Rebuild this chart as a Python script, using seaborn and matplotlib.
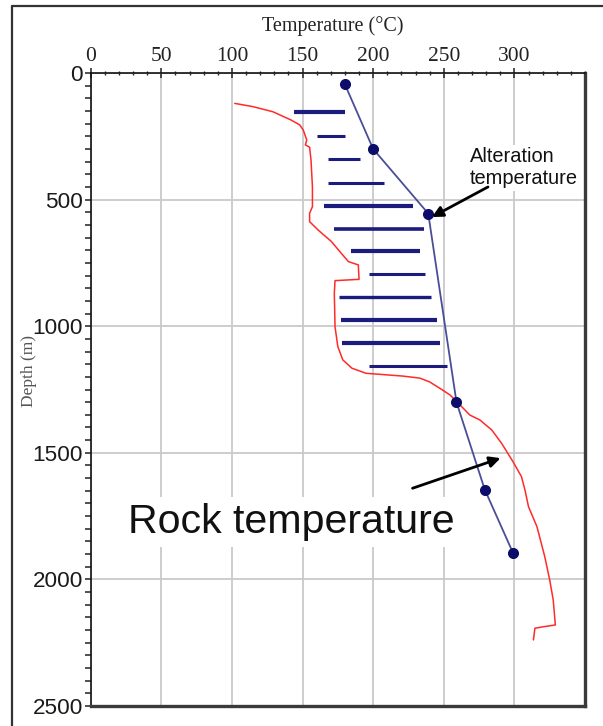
import matplotlib
matplotlib.use("Agg")
import matplotlib.pyplot as plt
import seaborn as sns
import pandas as pd
from matplotlib.lines import Line2D
from matplotlib.ticker import MultipleLocator, FixedLocator

# Alteration temperature estimated from mineralogy (points joined by a line)
alt_temp = [180, 200, 239, 259, 279, 299]
alt_depth = [45, 300, 555, 1300, 1645, 1895]

# Temperature range of the alteration assemblage at sampled depths
range_depth = [155, 249, 341, 433, 524, 616, 703, 795, 886, 975, 1066, 1157]
range_min = [144, 160, 168, 168, 165, 172, 184, 197, 176, 177, 178, 197]
range_max = [180, 180, 191, 208, 228, 236, 233, 237, 241, 245, 247, 252]

# Measured rock temperature profile
rock_temp = [102, 115, 129, 142, 148, 150.5, 153, 152, 155, 156, 157, 157,
             155, 155, 161, 170.5, 176.5, 182.5, 189.5, 190, 173, 172.5, 173,
             175, 178.5, 185, 195, 221, 233, 240, 248, 254.5, 261.5, 268.5,
             275.5, 284, 291, 299, 305, 307.5, 310, 316, 321.5, 325, 327.5,
             329, 320.5, 314.5, 313.5]
rock_depth = [120, 133, 153, 186, 205, 225, 265, 284, 293, 344, 449, 528,
              554, 587, 620, 666, 706, 745, 758, 815, 820, 870, 1002,
              1081, 1133, 1166, 1186, 1197, 1205, 1220, 1248, 1272, 1311, 1351,
              1370, 1410, 1463, 1535, 1594, 1647, 1713, 1792, 1910, 2002, 2081,
              2180, 2187, 2193, 2239]

x_ticks = [0, 50, 100, 150, 200, 250, 300]
y_ticks = [0, 500, 1000, 1500, 2000, 2500]

sns.set_style("white")
plt.rcParams["font.family"] = ["Liberation Sans", "DejaVu Sans"]

W, H = 603, 726
fig = plt.figure(figsize=(W / 100, H / 100), dpi=100)
ax = fig.add_axes([90.7 / W, 1 - 706 / H, (585 - 90.7) / W, (706 - 73) / H])

rock_df = pd.DataFrame({"temp": rock_temp, "depth": rock_depth})
alt_df = pd.DataFrame({"temp": alt_temp, "depth": alt_depth})

# Rock temperature curve
sns.lineplot(data=rock_df, x="temp", y="depth", sort=False, estimator=None,
             color="#ff2a2a", linewidth=1.1, ax=ax, zorder=3)

# Alteration temperature ranges
bar_lw = [3, 2.2, 2.2, 2.2, 3, 2.6, 3, 2.2, 2.4, 3, 3, 2.2]
ax.hlines(range_depth, range_min, range_max, colors="#1c1c7e",
          linewidths=bar_lw, zorder=4)

# Alteration temperature trend
sns.lineplot(data=alt_df, x="temp", y="depth", sort=False, estimator=None,
             color="#4a4e98", linewidth=1.3, marker="o", markersize=7.2,
             markerfacecolor="#0c0c6a", markeredgecolor="#0c0c6a",
             ax=ax, zorder=5)

ax.set_xlim(0, 350)
ax.set_ylim(2500, 0)
ax.xaxis.tick_top()
ax.xaxis.set_label_position("top")
ax.xaxis.set_major_locator(FixedLocator(x_ticks))
ax.xaxis.set_minor_locator(MultipleLocator(10))
ax.yaxis.set_major_locator(FixedLocator(y_ticks))
ax.yaxis.set_minor_locator(MultipleLocator(50))

ax.grid(True, which="major", color="#c9c9c9", linewidth=1.3, zorder=0)
ax.set_axisbelow(True)

ax.tick_params(axis="x", which="major", direction="inout", length=7,
               width=1.1, color="#222222", pad=1.5, top=True, bottom=False)
ax.tick_params(axis="x", which="minor", direction="inout", length=3,
               width=1.0, color="#222222", top=True, bottom=False)
ax.tick_params(axis="y", which="both", direction="out", length=4,
               width=1.1, color="#222222", pad=1.5, left=True, right=False)

for lab in ax.get_xticklabels():
    lab.set_fontfamily(["Liberation Serif", "DejaVu Serif"])
    lab.set_fontsize(15.5)
    lab.set_color("#222222")
for lab in ax.get_yticklabels():
    lab.set_fontfamily(["Liberation Sans", "DejaVu Sans"])
    lab.set_fontsize(16.2)
    lab.set_color("#1a1a1a")

ax.set_xlabel("Temperature (°C)", fontsize=14.5,
              fontfamily=["Liberation Serif", "DejaVu Serif"], color="#222222")
ax.xaxis.set_label_coords(0.49, 1.066)
ax.set_ylabel("Depth (m)", fontsize=12.5,
              fontfamily=["Liberation Serif", "DejaVu Serif"], color="#555555")
ax.yaxis.set_label_coords(-0.109, 0.53)

for side in ("left", "top"):
    ax.spines[side].set_color("#111111")
    ax.spines[side].set_linewidth(1.2)
for side in ("right", "bottom"):
    ax.spines[side].set_color("#3a3a3a")
    ax.spines[side].set_linewidth(2.4)

# Annotations
ax.text(268.6, 375, "Alteration\ntemperature", fontsize=14.4, ha="left",
        va="center", linespacing=1.2, color="#111111", zorder=6,
        bbox=dict(facecolor="white", edgecolor="none", pad=2))
ax.annotate("", xy=(241.6, 569), xytext=(281.3, 450), zorder=7,
            arrowprops=dict(arrowstyle="-|>", color="black", lw=2,
                            mutation_scale=16, shrinkA=0, shrinkB=0))

ax.text(26.3, 1817, "Rock temperature", fontsize=29.6, ha="left",
        va="baseline", color="#111111", zorder=6,
        bbox=dict(facecolor="white", edgecolor="none", pad=4))
ax.annotate("", xy=(290.2, 1521), xytext=(227.9, 1640), zorder=7,
            arrowprops=dict(arrowstyle="-|>", color="black", lw=2,
                            mutation_scale=16, shrinkA=0, shrinkB=0))

# Frame around the figure
fx, fy = 12 / W, 1 - 6 / H
fig.add_artist(Line2D([fx, fx], [0, fy], transform=fig.transFigure,
                      color="#333333", lw=1.6))
fig.add_artist(Line2D([fx, 1], [fy, fy], transform=fig.transFigure,
                      color="#333333", lw=1.6))

fig.savefig("out.png", dpi=100)
